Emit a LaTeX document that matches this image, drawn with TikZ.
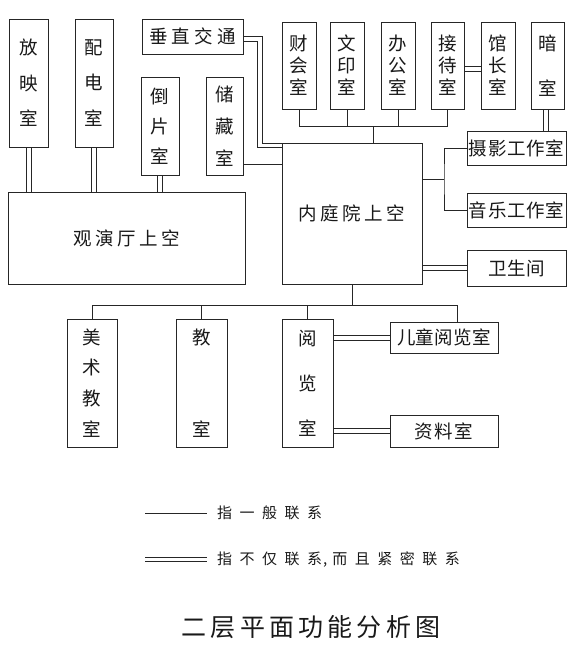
\documentclass[tikz,border=0pt]{standalone}
\usepackage{fontspec}
\setmainfont{Noto Sans CJK SC}
\usetikzlibrary{backgrounds}
\def\myspc#1#2{\def\myspcgap{#1}\myspcA#2\relax}
\def\myspcA#1{\ifx\relax#1\else#1\expandafter\myspcB\fi}
\def\myspcB#1{\ifx\relax#1\else\hspace{\myspcgap}#1\expandafter\myspcB\fi}
\newcommand\mybox[7][]{\node[box,#1,minimum width={(#5-#3)*1pt},minimum height={(#6-#4)*1pt}] (#2) at ({(#3+#5)/2},{(#4+#6)/2}) {#7};}
\newcommand\dblv[3][2.5pt]{\draw[conn,transform canvas={xshift=-#1}] #2 -- #3; \draw[conn,transform canvas={xshift=#1}] #2 -- #3;}
\newcommand\dblh[3][2.5pt]{\draw[conn,transform canvas={yshift=-#1}] #2 -- #3; \draw[conn,transform canvas={yshift=#1}] #2 -- #3;}
\tikzset{
  box/.style={draw=black!85, fill=white, line width=0.7pt, inner sep=0pt, align=center, text=black!90, font=\fontsize{18.5pt}{20pt}\selectfont},
  vsp/.style={font=\fontsize{18.5pt}{#1}\selectfont},
  conn/.style={draw=black!85, line width=0.7pt},
  legtext/.style={anchor=west, inner sep=0pt, text=black!90, font=\fontsize{15pt}{17pt}\selectfont},
  titletext/.style={inner sep=0pt, text=black!90, font=\fontsize{25pt}{28pt}\selectfont}
}
\begin{document}
\begin{tikzpicture}[x=1pt,y=-1pt]
\useasboundingbox (0,0) rectangle (573,648);
% left group
\mybox[vsp=35.5pt]{fy}{9}{19}{48}{147}{放\\映\\室}
\mybox[vsp=35.5pt]{pd}{75}{19}{113}{147}{配\\电\\室}
\mybox{vj}{142}{19}{243}{54}{\myspc{4.2pt}{垂直交通}}
\mybox[vsp=30pt]{dp}{141}{77}{179}{175}{倒\\片\\室}
\mybox[vsp=32pt]{cc}{206}{77}{243}{175}{储\\藏\\室}
\mybox{gy}{8}{192}{245}{284}{\myspc{3.5pt}{观演厅上空}}
\mybox{nt}{282}{143}{422}{284}{\raisebox{-4pt}{\myspc{3.5pt}{内庭院上空}}}
% top row
\mybox[vsp=22pt]{ck}{282}{22}{316}{109}{财\\会\\室}
\mybox[vsp=22pt]{wy}{330}{22}{364}{109}{文\\印\\室}
\mybox[vsp=22pt]{bg}{381}{22}{415}{109}{办\\公\\室}
\mybox[vsp=22pt]{jd}{431}{22}{464}{109}{接\\待\\室}
\mybox[vsp=22pt]{gz}{481}{22}{515}{109}{馆\\长\\室}
\mybox[vsp=45pt]{an}{531}{22}{564}{109}{暗\\室}
% right column
\mybox{sy}{467}{131}{566}{165}{\myspc{0.7pt}{摄影工作室}}
\mybox{yy}{467}{193}{566}{227}{\myspc{0.7pt}{音乐工作室}}
\mybox{ws}{467}{250}{566}{286}{\myspc{0.3pt}{卫生间}}
% bottom row
\mybox[vsp=30.7pt]{ms}{67}{319}{117}{447}{美\\术\\教\\室}
\mybox[vsp=92pt]{js}{176}{319}{227}{447}{教\\室}
\mybox[vsp=45pt]{yl}{282}{319}{333}{447}{阅\\览\\室}
\mybox{et}{390}{322}{498}{353}{\myspc{0.3pt}{儿童阅览室}}
\mybox{zl}{390}{415}{498}{447}{\myspc{1.5pt}{资料室}}
% helper coordinates
\coordinate (vo) at (262,143);
\coordinate (vi) at (257,147.5);
\coordinate (cc1) at ([yshift=11pt]cc.south east);
\coordinate (brk) at (373,126);
\coordinate (jn) at (444,179);
\coordinate (an1) at ([xshift=-2pt]an.south);
\coordinate (bt) at (352,305);
\coordinate (et1) at ([xshift=13pt]et.north);
\coordinate (jd1) at ([yshift=-3pt]jd.east);
\begin{scope}[on background layer]
\dblv{(fy.south)}{(fy.south |- gy.north)}
\dblv{(pd.south)}{(pd.south |- gy.north)}
\dblv{(dp.south)}{(dp.south |- gy.north)}
\draw[conn] ([yshift=0.5pt]vj.east) -| (vo) -- (vo -| nt.west);
\draw[conn] ([yshift=-4.5pt]vj.east) -| (vi) -- (vi -| nt.west);
\draw[conn] (cc1) -- (cc1 -| nt.west);
\draw[conn] (ck.south) |- (brk -| jd.south) -- (jd.south);
\draw[conn] (wy.south) -- (wy.south |- brk);
\draw[conn] (bg.south) -- (bg.south |- brk);
\draw[conn] (brk) -- (brk |- nt.north);
\dblh{(jd1)}{(jd1 -| gz.west)}
\dblv{(an1)}{(an1 |- sy.north)}
\draw[conn] (jn -| nt.east) -- (jn);
\draw[conn] (sy.west) -| (jn) |- (yy.west);
\dblh{(ws.west -| nt.east)}{(ws.west)}
\draw[conn] (nt.south) -- (nt.south |- bt);
\draw[conn] (ms.north) |- (et1 |- bt) -- (et1);
\draw[conn] (js.north) -- (js.north |- bt);
\draw[conn] (yl.north) -- (yl.north |- bt);
\dblh{(yl.east |- et.west)}{(et.west)}
\dblh{(yl.east |- zl.west)}{(zl.west)}
\end{scope}
% legend
\coordinate (l1a) at (145,513);
\coordinate (l1b) at (207,513);
\draw[conn] (l1a) -- (l1b);
\node[legtext] (t1) at (217,513) {\myspc{7.5pt}{指一般联系}};
\coordinate (l2a) at (145,559);
\coordinate (l2b) at (207,559);
\dblh[2pt]{(l2a)}{(l2b)}
\node[legtext] (t2) at (217,560) {\myspc{7.5pt}{指不仅联系}\hspace{1pt},\hspace{5pt}\myspc{7.5pt}{而且紧密联系}};
\node[titletext] (title) at (311,627) {\myspc{4.2pt}{二层平面功能分析图}};
\end{tikzpicture}
\end{document}
